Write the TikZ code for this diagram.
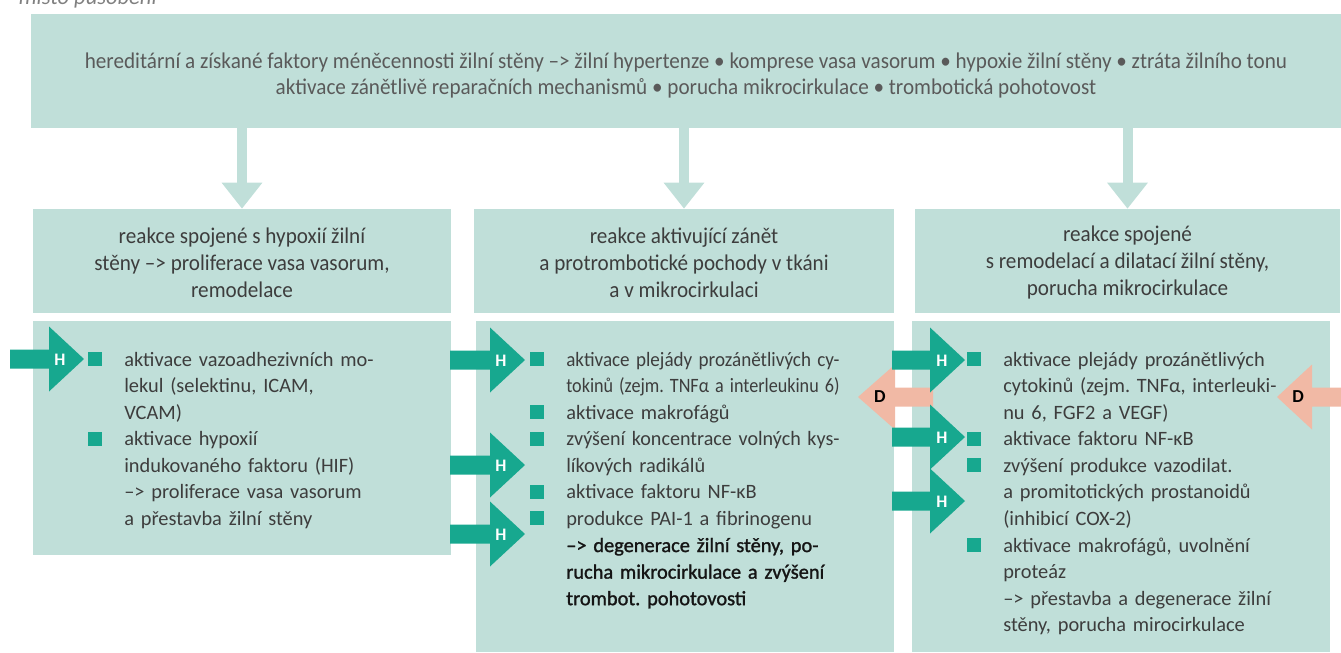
\documentclass[tikz,border=0pt]{standalone}
\usepackage{graphicx}
\usepackage{fontspec}
\setmainfont{Carlito}
\newfontfamily\condfont[FakeStretch=0.94]{Carlito}
\newfontfamily\semifont[FakeBold=1.3]{Carlito}
\usetikzlibrary{arrows.meta}
\definecolor{boxfill}{HTML}{C0DFD9}
\definecolor{hteal}{HTML}{17A88F}
\definecolor{dsalmon}{HTML}{F1B9A5}
\definecolor{txtgray}{HTML}{3D3D3D}
\definecolor{txtdark}{HTML}{151515}
\frenchspacing
\newlength{\lw}\setlength{\lw}{6.83cm}
\newsavebox{\jbox}
\newcommand{\itm}{\leavevmode\llap{\textcolor{hteal}{\rule[0pt]{10pt}{10pt}}\hspace{15.6pt}}}
% justified line, squeezed if too long
\newcommand{\jl}[1]{\sbox{\jbox}{#1}%
  \ifdim\wd\jbox>\lw\resizebox{\lw}{\ht\jbox}{#1}\else\makebox[\lw][s]{#1}\fi}
% tail x, base x, tip x, y
\newcommand{\blockarrow}[5]{%
  \fill[#1] (#2,#5-9.5) -- (#3,#5-9.5) -- (#3,#5-32.5) -- (#4,#5)
    -- (#3,#5+32.5) -- (#3,#5+9.5) -- (#2,#5+9.5) -- cycle;}

\begin{document}
\begin{tikzpicture}[x=0.025cm,y=-0.025cm,
    tbox/.style={fill=boxfill,inner sep=0pt,text=txtgray,align=center},
    downarr/.style={draw=boxfill,line width=0.25cm,-{Triangle[width=0.975cm,length=0.65cm]}},
    listtext/.style={inner sep=0pt,anchor=base west,text width=9cm,align=left,
      text=txtgray,font=\fontsize{14.5}{18.9}\selectfont},
    hlab/.style={inner sep=0pt,text=white,font=\bfseries\fontsize{12.5}{12.5}\selectfont},
    dlab/.style={inner sep=0pt,text=black,font=\bfseries\fontsize{13}{13}\selectfont}]
  \useasboundingbox (0,0) rectangle (1341,652);

  \node[anchor=base east,inner sep=0pt,text=gray,font=\itshape\fontsize{16}{16}\selectfont]
    (capfrag) at (157,4) {místo působení};

  % top box
  \node[tbox,minimum width=32.75cm,minimum height=2.85cm,text=txtgray!85,
    font=\condfont\fontsize{16}{18.5}\selectfont] (top) at (686,71)
    {\rule{0pt}{17pt}hereditární a získané faktory méněcennosti žilní stěny –> žilní hypertenze • komprese vasa vasorum • hypoxie žilní stěny • ztráta žilního tonu\\
     aktivace zánětlivě reparačních mechanismů • porucha mikrocirkulace • trombotická pohotovost};

  % middle row
  \begin{scope}[every node/.style={tbox,minimum height=2.6cm,
      font=\condfont\fontsize{16}{19.2}\selectfont}]
    \node[minimum width=10.45cm] (mid1) at (242,261)
      {\rule{0pt}{13pt}reakce spojené s hypoxií žilní\\ stěny –> proliferace vasa vasorum,\\ remodelace};
    \node[minimum width=10.5cm] (mid2) at (684,261)
      {\rule{0pt}{13pt}reakce aktivující zánět\\ a protrombotické pochody v tkáni\\ a v mikrocirkulaci};
    \node[minimum width=10.625cm] (mid3) at (1127.5,261)
      {\rule{0pt}{13pt}reakce spojené\\ s remodelací a dilatací žilní stěny,\\ porucha mikrocirkulace};
  \end{scope}

  \draw[downarr] (top.south -| mid1.north) -- (mid1.north);
  \draw[downarr] (top.south -| mid2.north) -- (mid2.north);
  \draw[downarr] (top.south -| mid3.north) -- (mid3.north);

  % bottom row
  \node[tbox,minimum width=10.45cm,minimum height=5.85cm] (low1) at (242,438) {};
  \node[tbox,minimum width=10.45cm,minimum height=8.275cm] (low2) at (685,486.5) {};
  \node[tbox,minimum width=10.45cm,minimum height=8.275cm] (low3) at (1121,486.5) {};

  % H and D arrows
  \blockarrow{hteal}{10}{49}{84}{359}
  \blockarrow{hteal}{450}{490}{525}{360}
  \blockarrow{hteal}{450}{490}{525}{465}
  \blockarrow{hteal}{450}{490}{525}{534}
  \blockarrow{dsalmon}{933}{895}{858}{397}
  \blockarrow{dsalmon}{1345}{1312}{1277}{397}
  \blockarrow{hteal}{892}{930}{965}{360}
  \blockarrow{hteal}{892}{930}{965}{437}
  \blockarrow{hteal}{892}{930}{965}{501}

  \node[hlab] (hA) at (60,360) {H};
  \node[hlab] (hB1) at (501,361) {H};
  \node[hlab] (hB2) at (501,466) {H};
  \node[hlab] (hB3) at (501,535) {H};
  \node[hlab] (hC1) at (942,361) {H};
  \node[hlab] (hC2) at (942,438) {H};
  \node[hlab] (hC3) at (942,502) {H};
  \node[dlab] (dB) at (880,397) {D};
  \node[dlab] (dC) at (1298,397) {D};

  % lists
  \node[listtext] (list1) at (124,366)
    {\itm\jl{aktivace vazoadhezivních mo-}\\
     lekul (selektinu, ICAM,\\
     VCAM)\\
     \itm aktivace hypoxií\\
     indukovaného faktoru (HIF)\\
     –> proliferace vasa vasorum\\
     a přestavba žilní stěny};
  \node[listtext] (list2) at (566,366)
    {\itm\jl{aktivace plejády prozánětlivých cy-}\\
     \jl{tokinů (zejm. TNFα a interleukinu 6)}\\
     \itm aktivace makrofágů\\
     \itm\jl{zvýšení koncentrace volných kys-}\\
     líkových radikálů\\
     \itm aktivace faktoru NF-κB\\
     \itm\jl{produkce PAI-1 a fibrinogenu}\\
     {\semifont\color{txtdark}\jl{–> degenerace žilní stěny, po-}}\\
     {\semifont\color{txtdark}\jl{rucha mikrocirkulace a zvýšení}}\\
     {\semifont\color{txtdark}trombot. pohotovosti}};
  \node[listtext] (list3) at (1003,366)
    {\itm\jl{aktivace plejády prozánětlivých}\\
     \jl{cytokinů (zejm. TNFα, interleuki-}\\
     nu 6, FGF2 a VEGF)\\
     \itm aktivace faktoru NF-κB\\
     \itm\jl{zvýšení produkce vazodilat.}\\
     \jl{a promitotických prostanoidů}\\
     (inhibicí COX-2)\\
     \itm\jl{aktivace makrofágů, uvolnění}\\
     proteáz\\
     –> přestavba a degenerace žilní\\
     stěny, porucha mirocirkulace};
\end{tikzpicture}
\end{document}
